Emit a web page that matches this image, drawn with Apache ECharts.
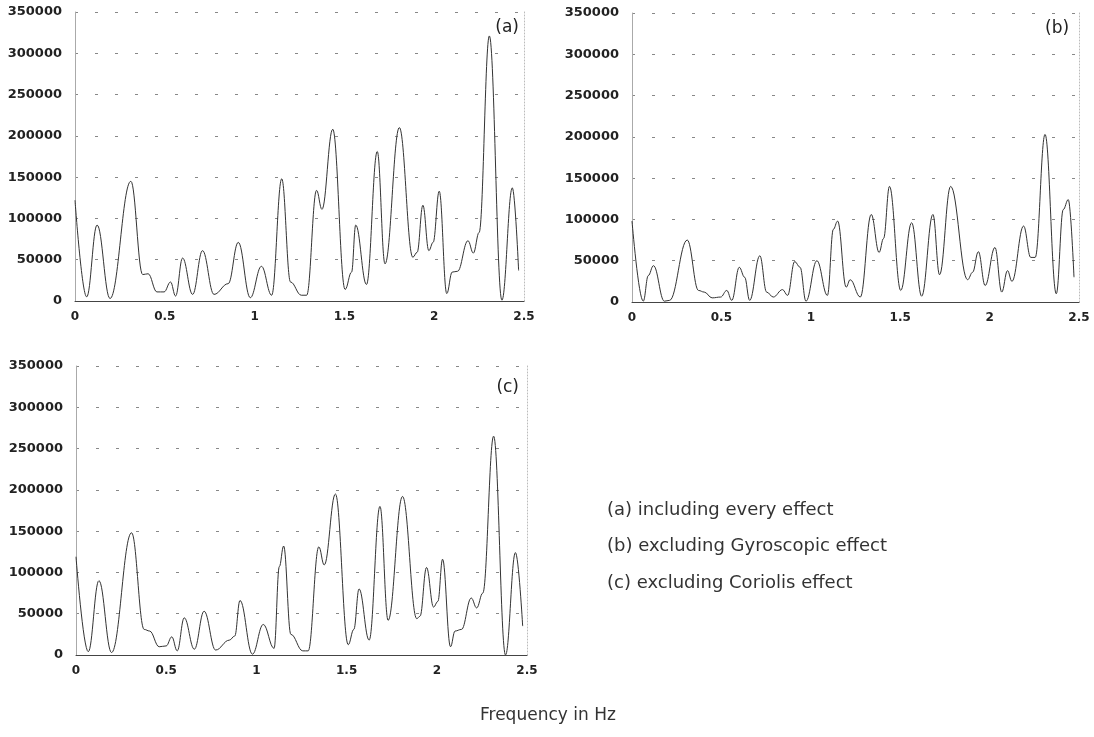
<!DOCTYPE html>
<html>
<head>
<meta charset="utf-8">
<title>Frequency response</title>
<script src="https://cdn.jsdelivr.net/npm/echarts@6/dist/echarts.min.js"></script>
<style>
  html, body { margin: 0; padding: 0; background: #fff; }
  #chart { width: 1094px; height: 737px; }
</style>
</head>
<body>
<div id="chart"></div>
<script>
// (a) including every effect
const freqA = [0, 0.065, 0.123, 0.195, 0.311, 0.377, 0.407, 0.456, 0.496, 0.532, 0.56, 0.599, 0.655, 0.71, 0.774, 0.853, 0.909, 0.976, 1.038, 1.095, 1.151, 1.2, 1.26, 1.29, 1.345, 1.375, 1.435, 1.504, 1.54, 1.563, 1.623, 1.683, 1.726, 1.806, 1.881, 1.905, 1.937, 1.97, 1.994, 2.028, 2.07, 2.1, 2.13, 2.188, 2.218, 2.25, 2.307, 2.377, 2.435, 2.47];
const ampA = [122000, 5000, 92000, 3000, 145000, 32000, 33000, 11000, 11000, 23000, 6000, 52000, 8000, 61000, 8000, 21000, 71000, 4000, 42000, 7000, 148000, 23000, 7000, 7000, 134000, 111000, 208000, 14000, 35000, 92000, 20000, 181000, 45000, 210000, 53000, 59000, 116000, 61000, 71000, 133000, 9000, 35000, 36000, 73000, 58000, 83000, 321000, 1000, 137000, 37000];

// (b) excluding Gyroscopic effect
const freqB = [0, 0.063, 0.091, 0.12, 0.181, 0.21, 0.309, 0.372, 0.404, 0.448, 0.496, 0.53, 0.558, 0.6, 0.63, 0.658, 0.715, 0.753, 0.79, 0.842, 0.87, 0.91, 0.94, 0.973, 1.034, 1.093, 1.126, 1.15, 1.198, 1.22, 1.277, 1.338, 1.382, 1.407, 1.44, 1.503, 1.564, 1.62, 1.683, 1.72, 1.782, 1.877, 1.905, 1.937, 1.975, 2.03, 2.068, 2.1, 2.125, 2.19, 2.23, 2.255, 2.31, 2.373, 2.412, 2.44, 2.472];
const ampB = [98000, 1000, 32000, 44000, 1000, 2000, 75000, 14000, 12000, 5000, 6000, 14000, 2000, 42000, 30000, 2000, 56000, 12000, 6000, 15000, 8000, 49000, 42000, 1000, 50000, 8000, 88000, 98000, 18000, 27000, 6000, 106000, 60000, 77000, 140000, 14000, 96000, 7000, 106000, 33000, 140000, 27000, 36000, 61000, 20000, 66000, 12000, 38000, 25000, 92000, 54000, 54000, 203000, 10000, 112000, 124000, 30000];

// (c) excluding Coriolis effect
const freqC = [0, 0.068, 0.127, 0.197, 0.308, 0.378, 0.408, 0.461, 0.5, 0.531, 0.561, 0.6, 0.656, 0.71, 0.774, 0.85, 0.88, 0.909, 0.978, 1.038, 1.098, 1.127, 1.151, 1.191, 1.257, 1.287, 1.346, 1.376, 1.438, 1.509, 1.54, 1.569, 1.625, 1.685, 1.73, 1.81, 1.889, 1.907, 1.943, 1.982, 2.006, 2.032, 2.076, 2.101, 2.137, 2.191, 2.221, 2.255, 2.315, 2.381, 2.436, 2.476];
const ampC = [119000, 4000, 90000, 3000, 148000, 31000, 29000, 10000, 11000, 22000, 5000, 45000, 7000, 53000, 6000, 18000, 23000, 66000, 1000, 37000, 8000, 107000, 132000, 25000, 5000, 5000, 131000, 109000, 195000, 12500, 31000, 80000, 18000, 180000, 42000, 192000, 44000, 47000, 106000, 58000, 65000, 116000, 10000, 29000, 31000, 69000, 57000, 75000, 265000, 0, 124000, 35000];

const panelLabels = ['(a)', '(b)', '(c)'];
const legendLines = [
  '(a) including every effect',
  '(b) excluding Gyroscopic effect',
  '(c) excluding Coriolis effect'
];
const xTitle = 'Frequency in Hz';

const FONT = '"DejaVu Sans", Arial, sans-serif';

const grids = [
  { left: 75, top: 12, width: 449, height: 289 },
  { left: 632, top: 13, width: 447, height: 289 },
  { left: 76, top: 366, width: 451, height: 289 }
];

function makeX(i) {
  return {
    type: 'value', gridIndex: i, min: 0, max: 2.5, interval: 0.5,
    axisLine: { show: true, onZero: false, lineStyle: { color: '#444', width: 1 } },
    axisTick: { show: false },
    splitLine: { show: false },
    axisLabel: { color: '#222', fontFamily: FONT, fontWeight: 'bold', fontSize: 12, margin: 10, formatter: (v) => String(v) }
  };
}

function makeY(i) {
  return {
    type: 'value', gridIndex: i, min: 0, max: 350000, interval: 50000,
    axisLine: { show: true, lineStyle: { color: '#aaa', width: 1 } },
    axisTick: { show: false },
    splitLine: { show: true, lineStyle: { color: '#888', width: 1, type: [3, 17] } },
    axisLabel: { color: '#222', fontFamily: FONT, fontWeight: 'bold', fontSize: 13, margin: 13, formatter: (v) => String(v) }
  };
}

function makeRightEdge(i) {
  return {
    type: 'value', gridIndex: i, min: 0, max: 350000, position: 'right',
    axisLine: { show: true, lineStyle: { color: '#bbb', width: 1, type: [1, 2] } },
    axisTick: { show: false }, axisLabel: { show: false }, splitLine: { show: false }
  };
}

function pairs(fs, vs) {
  return fs.map((f, i) => [f, vs[i]]);
}

function lineSeries(i, data) {
  return {
    type: 'line', xAxisIndex: i, yAxisIndex: i * 2, data: data,
    smooth: 0.4, smoothMonotone: 'x', symbol: 'none', clip: true,
    lineStyle: { color: '#333', width: 1 }
  };
}

const yAxes = [];
grids.forEach((g, i) => { yAxes.push(makeY(i)); yAxes.push(makeRightEdge(i)); });

const chart = echarts.init(document.getElementById('chart'));
chart.setOption({
  animation: false,
  backgroundColor: '#fff',
  grid: grids,
  xAxis: grids.map((g, i) => makeX(i)),
  yAxis: yAxes,
  series: [
    lineSeries(0, pairs(freqA, ampA)),
    lineSeries(1, pairs(freqB, ampB)),
    lineSeries(2, pairs(freqC, ampC))
  ],
  graphic: [
    { type: 'text', right: 1094 - 519, top: 19, style: { text: panelLabels[0], font: '17px ' + FONT, fill: '#222' } },
    { type: 'text', left: 1045, top: 20, style: { text: panelLabels[1], font: '17px ' + FONT, fill: '#222' } },
    { type: 'text', right: 1094 - 519, top: 379, style: { text: panelLabels[2], font: '17px ' + FONT, fill: '#222' } },
    { type: 'text', left: 607, top: 501, style: { text: legendLines[0], font: '18px ' + FONT, fill: '#333' } },
    { type: 'text', left: 607, top: 537, style: { text: legendLines[1], font: '18px ' + FONT, fill: '#333' } },
    { type: 'text', left: 607, top: 574, style: { text: legendLines[2], font: '18px ' + FONT, fill: '#333' } },
    { type: 'text', left: 480, top: 707, style: { text: xTitle, font: '17px ' + FONT, fill: '#333' } }
  ]
});
</script>
</body>
</html>
